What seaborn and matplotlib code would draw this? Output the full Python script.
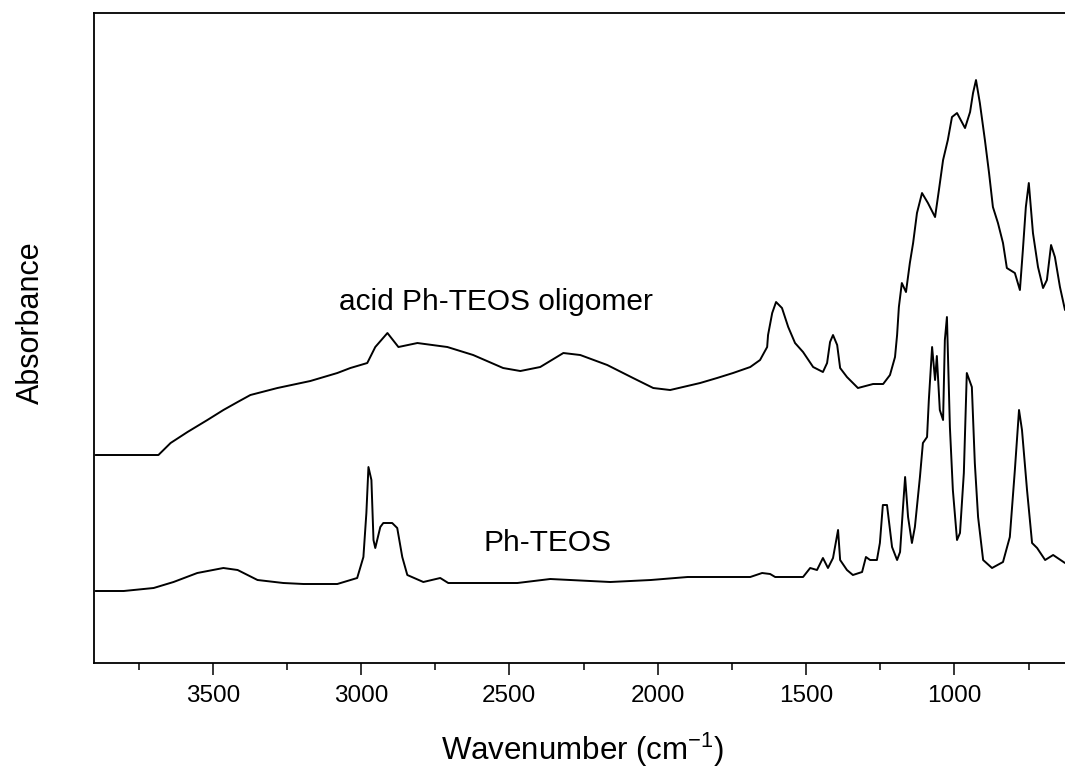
import matplotlib
matplotlib.use("Agg")
import matplotlib.pyplot as plt
import seaborn as sns
import pandas as pd

# FTIR absorbance spectra (arbitrary, offset units)
oligomer_wavenumber = [
    3895, 3683, 3642, 3585, 3518, 3464, 3416, 3373, 3282, 3171, 3080, 3036,
    2979, 2952, 2911, 2874, 2810, 2709, 2622, 2521, 2463, 2396, 2318, 2261,
    2170, 2083, 2015, 1958, 1857, 1800, 1746, 1688, 1655, 1631, 1628, 1614,
    1601, 1581, 1560, 1537, 1510, 1476, 1443, 1429, 1419, 1409, 1395, 1385,
    1362, 1325, 1274, 1240, 1217, 1200, 1193, 1187, 1177, 1163, 1150, 1139,
    1126, 1109, 1089, 1065, 1052, 1038, 1022, 1008, 991, 964, 947, 937, 927,
    914, 897, 883, 870, 853, 836, 823, 796, 779, 769, 759, 749, 735, 718, 701,
    688, 674, 661, 644, 627,
]
oligomer_absorbance = [
    2.08, 2.08, 2.20, 2.31, 2.43, 2.53, 2.61, 2.68, 2.75, 2.82, 2.90, 2.95,
    3.00, 3.16, 3.30, 3.16, 3.20, 3.16, 3.08, 2.95, 2.92, 2.96, 3.10, 3.08,
    2.98, 2.85, 2.75, 2.73, 2.80, 2.85, 2.90, 2.96, 3.03, 3.16, 3.28, 3.50,
    3.61, 3.55, 3.36, 3.20, 3.11, 2.96, 2.91, 3.00, 3.21, 3.28, 3.18, 2.95,
    2.86, 2.75, 2.79, 2.79, 2.88, 3.06, 3.28, 3.56, 3.80, 3.71, 4.00, 4.20,
    4.50, 4.70, 4.60, 4.46, 4.73, 5.03, 5.23, 5.46, 5.50, 5.35, 5.51, 5.70, 5.83,
    5.60, 5.23, 4.90, 4.56, 4.40, 4.20, 3.95, 3.90, 3.73, 4.13, 4.56, 4.80, 4.30, 3.96, 3.75,
    3.83, 4.18, 4.06, 3.76, 3.53,
]

monomer_wavenumber = [
    3895, 3800, 3699, 3632, 3552, 3464, 3416, 3349, 3262, 3194, 3080, 3013,
    2992, 2982, 2975, 2965, 2958, 2952, 2935, 2925, 2895, 2878, 2861, 2844,
    2790, 2733, 2706, 2473, 2362, 2160, 2023, 1899, 1688, 1648, 1621, 1604,
    1510, 1486, 1463, 1443, 1426, 1409, 1392, 1385, 1362, 1342, 1311, 1298,
    1284, 1261, 1251, 1241, 1227, 1210, 1193, 1183, 1173, 1166, 1156, 1143,
    1133, 1116, 1106, 1092, 1086, 1075, 1065, 1059, 1049, 1038, 1032, 1025,
    1015, 1005, 991, 981, 968, 958, 941, 931, 920, 903, 873, 836, 813, 796,
    782, 772, 755, 738, 721, 694, 667, 627,
]
monomer_absorbance = [
    0.72, 0.72, 0.75, 0.81, 0.90, 0.95, 0.93, 0.83, 0.80, 0.79, 0.79, 0.85,
    1.06, 1.50, 1.96, 1.83, 1.23, 1.15, 1.36, 1.40, 1.40, 1.35, 1.06, 0.88,
    0.81, 0.85, 0.80, 0.80, 0.84, 0.81, 0.83, 0.86, 0.86, 0.90, 0.89, 0.86,
    0.86, 0.95, 0.93, 1.05, 0.95, 1.05, 1.33, 1.03, 0.93, 0.88, 0.91, 1.06,
    1.03, 1.03, 1.20, 1.58, 1.58, 1.16, 1.03, 1.11, 1.56, 1.86, 1.46, 1.20,
    1.36, 1.86, 2.20, 2.26, 2.63, 3.16, 2.83, 3.07, 2.53, 2.43, 3.23, 3.46,
    2.36, 1.73, 1.23, 1.30, 1.90, 2.90, 2.76, 2.00, 1.46, 1.03, 0.95, 1.01, 1.26, 1.93,
    2.53, 2.33, 1.73, 1.20, 1.15, 1.03, 1.08, 1.00,
]

series_names = ["acid Ph-TEOS oligomer", "Ph-TEOS"]

df = pd.concat([
    pd.DataFrame({"wavenumber": oligomer_wavenumber,
                  "absorbance": oligomer_absorbance,
                  "sample": series_names[0]}),
    pd.DataFrame({"wavenumber": monomer_wavenumber,
                  "absorbance": monomer_absorbance,
                  "sample": series_names[1]}),
])

sns.set_style("ticks")
plt.rcParams["font.family"] = ["Liberation Sans", "DejaVu Sans"]
plt.rcParams["mathtext.fontset"] = "custom"
plt.rcParams["mathtext.rm"] = "Liberation Sans"
plt.rcParams["text.color"] = "black"
plt.rcParams["axes.labelcolor"] = "black"

fig = plt.figure(figsize=(10.65, 7.67), dpi=100)
ax = fig.add_axes([0.0883, 0.1356, 0.9117, 0.8474])

sns.lineplot(data=df, x="wavenumber", y="absorbance", units="sample",
             estimator=None, color="black", linewidth=1.4, ax=ax,
             legend=False)

ax.set_xlim(3900, 627)
ax.set_ylim(0, 6.5)
ax.set_xticks([3500, 3000, 2500, 2000, 1500, 1000])
ax.set_xticks([3750, 3250, 2750, 2250, 1750, 1250, 750], minor=True)
ax.set_yticks([])
ax.tick_params(axis="x", which="major", direction="out", length=8.6,
               width=1.1, pad=7, labelsize=17.5, colors="black")
ax.tick_params(axis="x", which="minor", direction="out", length=4.7,
               width=1.1, colors="black")
for side in ["left", "top", "bottom"]:
    ax.spines[side].set_linewidth(1.3)
    ax.spines[side].set_color("black")
ax.spines["right"].set_visible(False)

ax.set_xlabel("Wavenumber (cm$^{\\mathregular{-1}}$)", fontsize=22.5)
ax.set_ylabel("Absorbance", fontsize=22)
ax.xaxis.set_label_coords(0.503, -0.104)
ax.yaxis.set_label_coords(-0.05, 0.523)

ax.text(2546, 3.53, series_names[0], fontsize=21.5, ha="center",
        va="baseline", color="black")
ax.text(2371, 1.12, series_names[1], fontsize=21.5, ha="center",
        va="baseline", color="black")

fig.savefig("out.png", dpi=100)
